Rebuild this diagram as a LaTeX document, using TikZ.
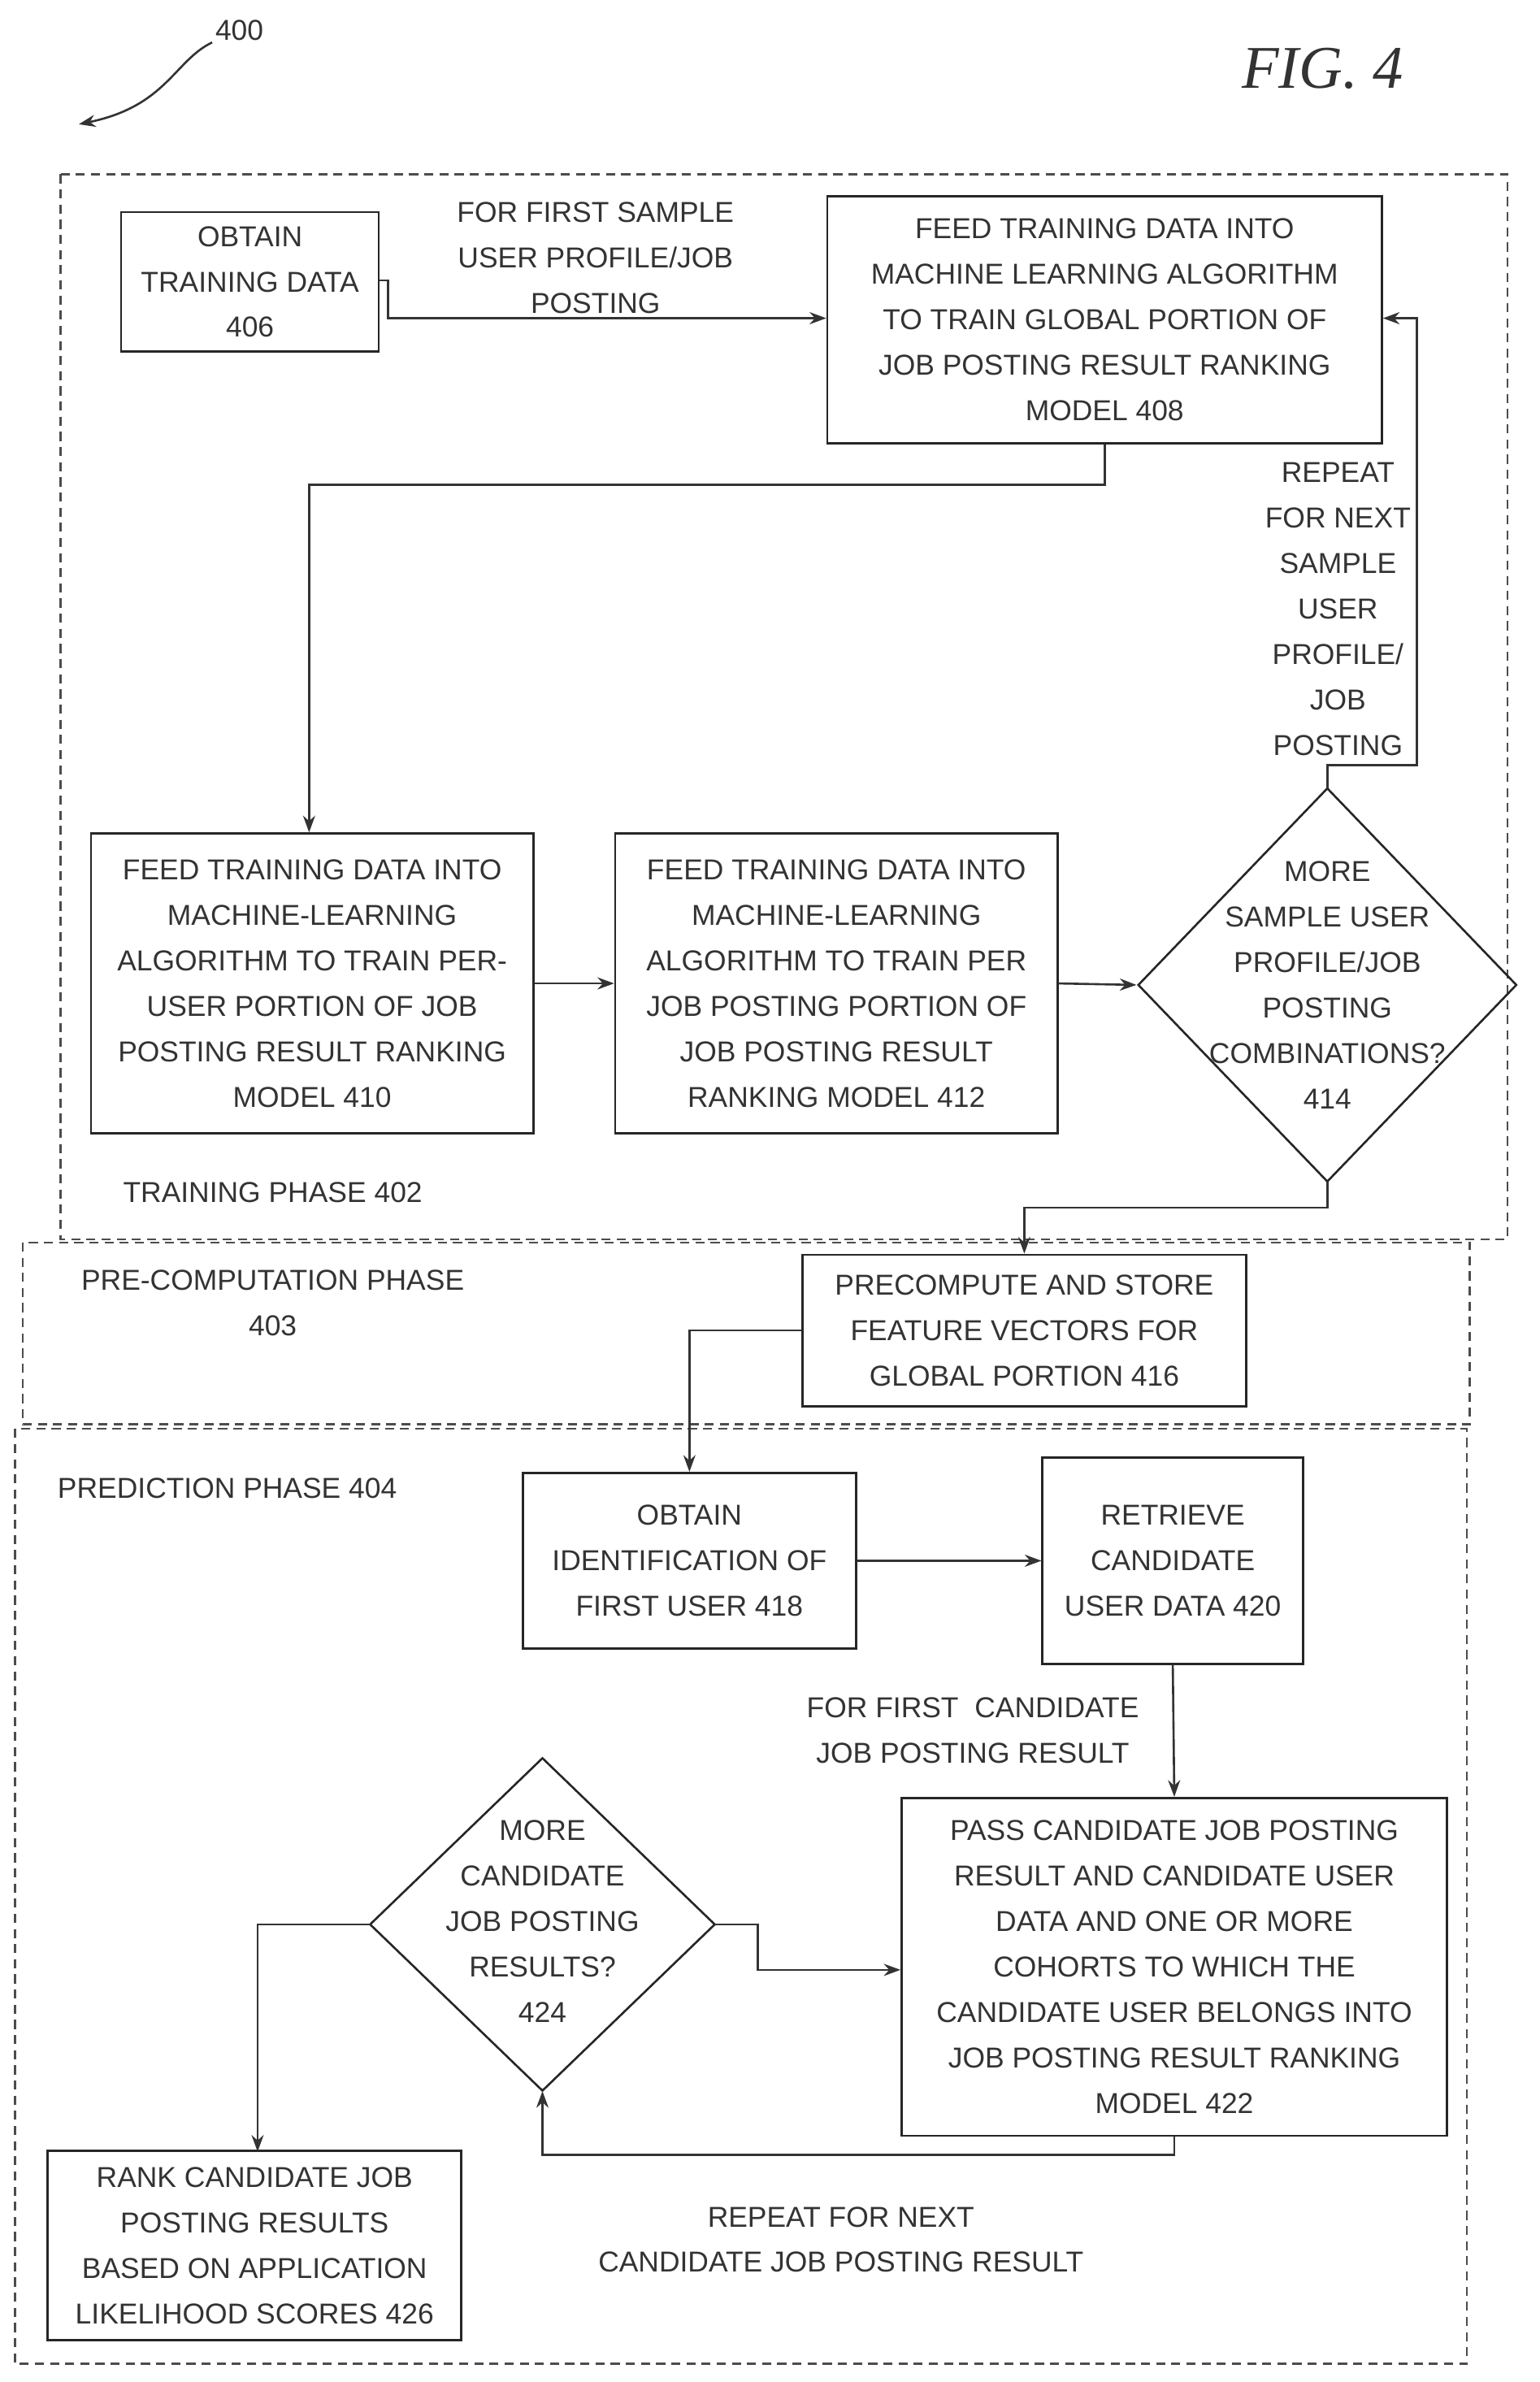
\documentclass[tikz,border=0pt]{standalone}
\usepackage{fontspec}
\setmainfont{Liberation Sans}
\newfontfamily\figfont{Liberation Serif}
\usetikzlibrary{shapes.geometric,arrows.meta}
\begin{document}
\begin{tikzpicture}[x=1pt,y=-1pt,
 every node/.style={font=\fontsize{19}{30}\selectfont,text=black!80,align=center,inner sep=0pt},
 box/.style={draw=black!85,line width=1.4pt},
 phase/.style={draw=black!70,line width=1.3pt,dash pattern=on 6pt off 4pt},
 ln/.style={draw=black!80,line width=1.4pt},
 arr/.style={ln,-{Stealth[length=11pt,width=8pt]}},
 lab/.style={}]
\useasboundingbox (0,0) rectangle (1016,1572);
\draw[phase] (40,115) rectangle (995,818);
\draw[phase] (15,820) rectangle (970,940);
\draw[phase] (10,943) rectangle (968,1560);
\node (n400) at (158,20) {400};
\draw[ln,-{Stealth[length=11pt,width=8pt]}] (140,28) .. controls (115,40) and (110,70) .. (52,82);
\node[font=\figfont\itshape\fontsize{40}{40}\selectfont] (fig) at (873,45) {FIG. 4};
% training
\node[box,minimum width=170pt,minimum height=92pt] (a406) at (165,186) {OBTAIN\\TRAINING DATA\\406};
\node[box,minimum width=366pt,minimum height=163pt] (a408) at (729,211) {FEED TRAINING DATA INTO\\MACHINE LEARNING ALGORITHM\\TO TRAIN GLOBAL PORTION OF\\JOB POSTING RESULT RANKING\\MODEL 408};
\node (l1) at (393,170) {FOR FIRST SAMPLE\\USER PROFILE/JOB\\POSTING};
\node[box,minimum width=292pt,minimum height=198pt] (a410) at (206,649) {FEED TRAINING DATA INTO\\MACHINE-LEARNING\\ALGORITHM TO TRAIN PER-\\USER PORTION OF JOB\\POSTING RESULT RANKING\\MODEL 410};
\node[box,minimum width=292pt,minimum height=198pt] (a412) at (552,649) {FEED TRAINING DATA INTO\\MACHINE-LEARNING\\ALGORITHM TO TRAIN PER\\JOB POSTING PORTION OF\\JOB POSTING RESULT\\RANKING MODEL 412};
\node[box,diamond,aspect=0.96,minimum width=250pt,minimum height=260pt] (a414) at (876,650) {};
\node (t414) at (876,650) {MORE\\SAMPLE USER\\PROFILE/JOB\\POSTING\\COMBINATIONS?\\414};
\node (l2) at (883,402) {REPEAT\\FOR NEXT\\SAMPLE\\USER\\PROFILE/\\JOB\\POSTING};
\node (ph402) at (180,787) {TRAINING PHASE 402};
\draw[arr] (a406.east |- 0,185) -- (256,185) |- (a408.west |- 0,210);
\draw[arr] (a408.south) |- (204,320) -- (a410.north -| 204,0);
\draw[arr] (a410.east) -- (a412.west);
\draw[arr] (a412.east) -- (750,650);
\draw[arr] (876,520) -- (876,505) -- (935,505) -- (935,210) -- (a408.east |- 0,210);
% precomp
\node (ph403) at (180,860) {PRE-COMPUTATION PHASE\\403};
\node[box,minimum width=293pt,minimum height=100pt] (a416) at (676,878) {PRECOMPUTE AND STORE\\FEATURE VECTORS FOR\\GLOBAL PORTION 416};
\draw[arr] (876,780) |- (676,797) -- (a416.north);
% prediction
\node (ph404) at (150,982) {PREDICTION PHASE 404};
\node[box,minimum width=220pt,minimum height=116pt] (a418) at (455,1030) {OBTAIN\\IDENTIFICATION OF\\FIRST USER 418};
\node[box,minimum width=172pt,minimum height=136pt] (a420) at (774,1030) {RETRIEVE\\CANDIDATE\\USER DATA 420};
\draw[arr] (a416.west) -| (a418.north);
\draw[arr] (a418.east) -- (a420.west);
\node (l3) at (642,1142) {FOR FIRST\ \ CANDIDATE\\JOB POSTING RESULT};
\node[box,minimum width=360pt,minimum height=223pt] (a422) at (775,1298) {PASS CANDIDATE JOB POSTING\\RESULT AND CANDIDATE USER\\DATA AND ONE OR MORE\\COHORTS TO WHICH THE\\CANDIDATE USER BELONGS INTO\\JOB POSTING RESULT RANKING\\MODEL 422};
\draw[arr] (a420.south) -- (a422.north);
\node[box,diamond,aspect=1.04,minimum width=228pt,minimum height=220pt] (a424) at (358,1270) {};
\node (t424) at (358,1268) {MORE\\CANDIDATE\\JOB POSTING\\RESULTS?\\424};
\draw[arr] (472,1270) -- (500,1270) |- (a422.west |- 0,1300);
\draw[arr] (a422.south) |- (358,1422) -- (358,1380);
\node (l4) at (555,1478) {REPEAT FOR NEXT\\CANDIDATE JOB POSTING RESULT};
\node[box,minimum width=273pt,minimum height=125pt] (a426) at (168,1482) {RANK CANDIDATE JOB\\POSTING RESULTS\\BASED ON APPLICATION\\LIKELIHOOD SCORES 426};
\draw[arr] (245,1270) -| (170,1420);
\end{tikzpicture}
\end{document}
